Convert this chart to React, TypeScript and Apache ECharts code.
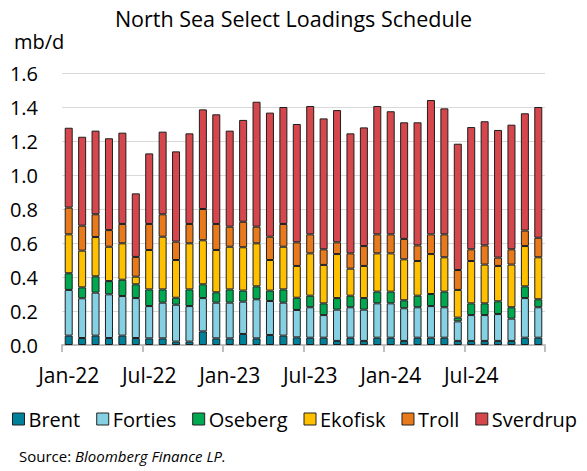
import React, { useEffect, useRef } from "react";
import * as echarts from "echarts";

const months = [
  "Jan-22","Feb-22","Mar-22","Apr-22","May-22","Jun-22","Jul-22","Aug-22","Sep-22","Oct-22","Nov-22","Dec-22",
  "Jan-23","Feb-23","Mar-23","Apr-23","May-23","Jun-23","Jul-23","Aug-23","Sep-23","Oct-23","Nov-23","Dec-23",
  "Jan-24","Feb-24","Mar-24","Apr-24","May-24","Jun-24","Jul-24","Aug-24","Sep-24","Oct-24","Nov-24","Dec-24",
];

const brent = [
  0.055, 0.041, 0.055, 0.041, 0.055, 0.041, 0.039, 0.039, 0.020, 0.020, 0.080, 0.039,
  0.039, 0.065, 0.039, 0.059, 0.055, 0.045, 0.043, 0.043, 0.024, 0.043, 0.024, 0.043,
  0.043, 0.024, 0.043, 0.043, 0.043, 0.024, 0.024, 0.024, 0.024, 0.024, 0.043, 0.043,
];
const forties = [
  0.269, 0.234, 0.253, 0.257, 0.233, 0.235, 0.190, 0.210, 0.217, 0.209, 0.196, 0.210,
  0.210, 0.190, 0.230, 0.200, 0.194, 0.161, 0.179, 0.133, 0.184, 0.179, 0.184, 0.202,
  0.202, 0.192, 0.179, 0.186, 0.179, 0.115, 0.152, 0.152, 0.158, 0.131, 0.233, 0.179,
];
const oseberg = [
  0.098, 0.064, 0.096, 0.078, 0.096, 0.081, 0.098, 0.078, 0.041, 0.098, 0.081, 0.061,
  0.078, 0.065, 0.076, 0.061, 0.078, 0.072, 0.068, 0.069, 0.068, 0.068, 0.068, 0.069,
  0.069, 0.047, 0.068, 0.071, 0.092, 0.022, 0.069, 0.069, 0.075, 0.067, 0.069, 0.047,
];
const ekofisk = [
  0.229, 0.216, 0.231, 0.202, 0.214, 0.045, 0.232, 0.310, 0.222, 0.271, 0.259, 0.249,
  0.251, 0.255, 0.253, 0.180, 0.251, 0.187, 0.249, 0.226, 0.259, 0.159, 0.189, 0.225,
  0.225, 0.241, 0.204, 0.235, 0.202, 0.163, 0.249, 0.228, 0.208, 0.251, 0.237, 0.247,
];
const troll = [
  0.157, 0.147, 0.134, 0.098, 0.114, 0.116, 0.153, 0.132, 0.108, 0.114, 0.184, 0.153,
  0.118, 0.150, 0.098, 0.137, 0.134, 0.139, 0.112, 0.092, 0.069, 0.090, 0.117, 0.112,
  0.112, 0.120, 0.092, 0.116, 0.135, 0.117, 0.069, 0.113, 0.049, 0.090, 0.091, 0.115,
];
const sverdrup = [
  0.470, 0.523, 0.492, 0.540, 0.537, 0.374, 0.415, 0.486, 0.531, 0.533, 0.586, 0.645,
  0.565, 0.599, 0.735, 0.730, 0.688, 0.696, 0.755, 0.770, 0.778, 0.706, 0.698, 0.755,
  0.724, 0.686, 0.724, 0.790, 0.741, 0.743, 0.719, 0.730, 0.751, 0.733, 0.690, 0.769,
];

const seriesNames = ["Brent", "Forties", "Oseberg", "Ekofisk", "Troll", "Sverdrup"];
const seriesData = [brent, forties, oseberg, ekofisk, troll, sverdrup];
const seriesColors = ["#00819A", "#85D1E3", "#00A84F", "#FFC000", "#E87A1C", "#D5474C"];

const FONT = "'Open Sans', 'Noto Sans', sans-serif";

export default function App() {
  const ref = useRef<HTMLDivElement>(null);
  useEffect(() => {
    if (!ref.current) return;
    const chart = echarts.init(ref.current, undefined, { renderer: "svg" });
    chart.setOption({
      animation: false,
      backgroundColor: "#ffffff",
      textStyle: { fontFamily: FONT },
      title: {
        text: "North Sea Select Loadings Schedule",
        left: "center",
        top: 2,
        textStyle: { fontFamily: FONT, fontSize: 21.5, fontWeight: "normal", color: "#000" },
      },
      graphic: [
        {
          type: "text",
          left: 14,
          top: 31,
          style: { text: "mb/d", fontFamily: FONT, fontSize: 20, fill: "#000" },
        },
        {
          type: "text",
          left: 19,
          top: 448,
          style: {
            text: "{n|Source: }{i|Bloomberg Finance LP.}",
            rich: {
              n: { fontFamily: FONT, fontSize: 15, fill: "#000", color: "#000" },
              i: { fontFamily: FONT, fontSize: 15, fontStyle: "italic", fill: "#000", color: "#000" },
            },
          },
        },
      ],
      legend: {
        left: 12,
        top: 409,
        width: 575,
        padding: 0,
        icon: "rect",
        itemWidth: 12,
        itemHeight: 12,
        itemGap: 16,
        textStyle: { fontFamily: FONT, fontSize: 20, color: "#000", padding: [0, 0, 0, -1] },
        itemStyle: { borderColor: "#222", borderWidth: 1 },
        data: seriesNames,
      },
      grid: { left: 62, right: 42, top: 73, bottom: 126 },
      xAxis: {
        type: "category",
        data: months,
        boundaryGap: true,
        axisLine: { lineStyle: { color: "#BFBFBF", width: 2 } },
        axisTick: { show: true, interval: 5, length: 7, lineStyle: { color: "#BFBFBF", width: 2 } },
        axisLabel: { interval: 5, margin: 19, fontFamily: FONT, fontSize: 21, color: "#000" },
        splitLine: { show: false },
      },
      yAxis: {
        type: "value",
        min: 0,
        max: 1.6,
        interval: 0.2,
        axisLine: { show: false },
        axisTick: { show: false },
        axisLabel: {
          margin: 24,
          fontFamily: FONT,
          fontSize: 20,
          color: "#000",
          formatter: (v: number) => v.toFixed(1),
        },
        splitLine: { lineStyle: { color: "#D9D9D9", width: 1 } },
      },
      series: seriesNames.map((name, i) => ({
        name,
        type: "bar",
        stack: "total",
        barWidth: 8,
        data: seriesData[i],
        itemStyle: { color: seriesColors[i], borderColor: "#1E1E1E", borderWidth: 1 },
        emphasis: { disabled: true },
      })),
    });
    return () => chart.dispose();
  }, []);
  return (
    <div
      ref={ref}
      style={{ position: "fixed", left: 0, top: 0, width: 587, height: 471 }}
    />
  );
}
